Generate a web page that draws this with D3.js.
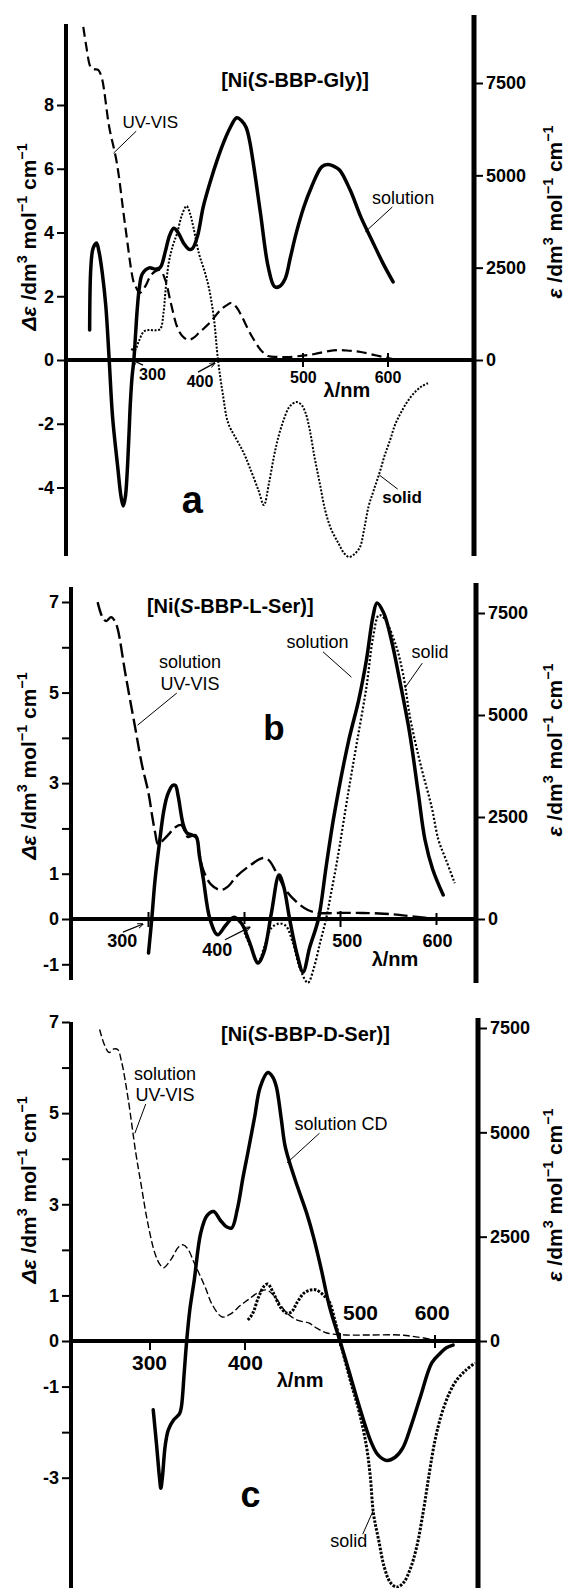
<!DOCTYPE html>
<html>
<head>
<meta charset="utf-8">
<script src="https://cdn.jsdelivr.net/npm/d3@7"></script>
<style>
body { margin: 0; background: #fff; }
svg { font-family: "Liberation Sans", Arial, sans-serif; }
</style>
</head>
<body>
<svg width="567" height="1588"></svg>
<script>
// ---- panel a : [Ni(S-BBP-Gly)]  ([wavelength nm, value])
var aSolution = [[249,0.94],[250.4,2.9],[253,3.5],[257,3.67],[260,3.4],[264,2.7],[268,1.7],[272,0],[276,-1.8],[282,-3.35],[286,-4.3],[288.6,-4.58],[291,-4.3],[293,-3.6],[295,-2.5],[297,-1.3],[299,-0.5],[301,0],[303,0.8],[305,1.6],[307.6,2.3],[311,2.7],[319,2.89],[326,2.85],[332,2.9],[338,3.4],[343,3.9],[348,4.13],[353,4.0],[360,3.65],[366,3.47],[370,3.5],[376,3.9],[382.6,4.8],[391,5.6],[399,6.27],[407,6.85],[414,7.27],[422,7.6],[428,7.5],[433,7.3],[437,6.9],[441,6.27],[450,4.6],[459,2.93],[466.5,2.3],[472,2.3],[479,2.55],[485,3.2],[492,3.98],[501,4.8],[510,5.43],[522,6.06],[529,6.13],[536,6.08],[543,5.96],[555.5,5.33],[568,4.49],[581,3.76],[594,3.04],[606,2.45]];
var aSolid = [[298,0.35],[302,0.3],[307,0.6],[313,0.9],[319,0.94],[326,0.93],[332,0.97],[336,1.5],[338,2.1],[342,3.04],[347,3.6],[352,3.98],[357,4.5],[363,4.83],[367,4.6],[371,4.17],[377.5,3.35],[384,2.8],[389,2.3],[395,1.35],[400,0],[405.5,-1.04],[412,-1.98],[422,-2.5],[430,-2.9],[437,-3.35],[447.5,-4.08],[454,-4.55],[460,-3.86],[466,-3.0],[471,-2.42],[477,-1.9],[484,-1.47],[492,-1.32],[498,-1.4],[503,-1.66],[508,-2.2],[513.5,-3.04],[520,-3.9],[526,-4.71],[533,-5.3],[541.5,-5.74],[548,-6.05],[554,-6.18],[560,-6.1],[567,-5.87],[572,-5.3],[577,-4.61],[583,-4.1],[590,-3.54],[596,-3.0],[602.5,-2.51],[608,-2.05],[615,-1.66],[623,-1.3],[632,-1.0],[640,-0.82],[647,-0.73]];
var aUvVis = [[241.5,9018],[245,8500],[249,7990],[251,7900],[255,7870],[259,7853],[263,7664],[272,6310],[281,5335],[291,3602],[301,2085],[304,1950],[307.6,1814],[314,1977],[320,2250],[325,2383],[331.8,2437],[338,2166],[344.5,1544],[352,894],[358,650],[365,542],[371,600],[377.5,731],[390,1002],[403,1354],[410,1480],[416,1544],[422,1420],[428.4,1164],[435,850],[441,596],[450,280],[459,108],[470,85],[484,81],[500,120],[513.5,162],[530,240],[543,271],[555,250],[568,217],[585,130],[600,54],[611,0]];
var aTicksL = [8, 6, 4, 2, 0, -2, -4];
var aLabelsL = [8, 6, 4, 2, 0, -2, -4];

// ---- panel b : [Ni(S-BBP-L-Ser)]
var bSolution = [[300,-0.75],[303.4,0],[306.8,0.86],[311.4,1.68],[316,2.4],[320,2.75],[325,2.95],[328,2.95],[331,2.7],[336,2.1],[340,1.9],[346,1.85],[350,1.8],[353,1.4],[357,0.9],[364,0],[372,-0.35],[380,-0.15],[389,0.04],[397,-0.1],[405,-0.5],[414,-0.97],[420,-0.75],[428,0.13],[436,0.97],[441,0.7],[447,0.0],[455,-0.8],[461,-1.17],[468,-0.62],[477,0],[485,1.15],[493,2.25],[508,3.89],[519,4.84],[527,5.72],[534,6.7],[538,6.98],[545,6.76],[553,6.16],[561,5.34],[572,4.11],[581,2.78],[588,1.75],[596,1.1],[607,0.53]];
var bSolid = [[400,-0.3],[407,-0.65],[414,-0.95],[421,-0.6],[428,-0.2],[436,-0.1],[443,-0.15],[450,-0.5],[458,-1.1],[466,-1.41],[472,-1.1],[479,-0.5],[485,0],[490,0.55],[496.6,1.3],[508,2.78],[517,3.89],[527,5.12],[534,6.23],[540,6.71],[545.5,6.64],[557,6.09],[565,5.43],[573,4.39],[584,3.36],[595,2.47],[602,1.75],[610,1.3],[619,0.79]];
var bUvVis = [[247,7767],[252,7400],[256,7300],[261,7400],[265,7300],[268,7100],[276,6000],[286,4704],[293,3800],[300,3087],[304,2500],[307,2107],[310,1830],[316,1950],[322,2100],[328,2250],[334,2303],[338,2150],[341,2009],[345,2040],[349,2058],[353,1600],[357,1200],[365,850],[375,710],[383,800],[391,1029],[405,1300],[419,1494],[425,1450],[433,1150],[443,710],[455,400],[466,220],[477,147],[500,150],[523,147],[545,130],[561,100],[580,50],[599,0]];
var bTicksL = [7, 6, 5, 4, 3, 2, 1, 0, -1];
var bLabelsL = [7, 5, 3, 1, 0, -1];

// ---- panel c : [Ni(S-BBP-D-Ser)]
var cSolution = [[303.4,-1.51],[307,-2.3],[310,-3.0],[311.4,-3.23],[313,-3.0],[316,-2.3],[319.3,-1.95],[325,-1.73],[331,-1.6],[333,-1.45],[336,-0.7],[338.6,0],[342,0.7],[346.6,1.34],[353.4,2.37],[360,2.75],[367,2.84],[374,2.65],[381,2.5],[386,2.48],[392,2.9],[398,3.6],[403,4.13],[410,4.9],[416,5.57],[424,5.89],[429,5.8],[433,5.58],[438,4.9],[442,4.3],[447,3.91],[455,3.4],[465,2.8],[472,2.29],[480,1.6],[489,0.75],[500,0],[510,-0.7],[520.5,-1.45],[532,-2.18],[540,-2.5],[549,-2.62],[558,-2.55],[566,-2.35],[575,-1.85],[585,-1.2],[596.6,-0.48],[605,-0.28],[612,-0.15],[619,-0.09]];
var cSolid = [[403,0.46],[408,0.6],[414,0.95],[420,1.2],[424,1.25],[430,1.05],[437,0.75],[444,0.61],[449,0.64],[455,0.85],[462,1.05],[469,1.12],[475,1.12],[483,1.0],[489,0.85],[494,0.5],[500,0],[510,-0.8],[520.5,-1.58],[528,-2.33],[532,-3.0],[535.2,-3.78],[541,-4.4],[546.6,-4.96],[553,-5.3],[560,-5.4],[567,-5.3],[574,-5.0],[580.7,-4.52],[588,-3.7],[594,-2.9],[600,-2.18],[607,-1.6],[615,-1.15],[622.7,-0.86],[632,-0.65],[642,-0.48]];
var cUvVis = [[247,7464],[252,7100],[257,6912],[262,7000],[266,6984],[270,6700],[277,5800],[285,4512],[291,3700],[297,2904],[305,2112],[310,1850],[314,1752],[322,1950],[330,2250],[335,2304],[340,2200],[346,1900],[352,1600],[358,1296],[366,850],[376,576],[385,650],[395,850],[403,984],[413,1150],[422,1224],[430,1100],[444,672],[455,500],[467,432],[476,300],[486,192],[506,144],[530,144],[562,144],[580,100],[600,24]];
var cTicksL = [7, 6, 5, 4, 3, 2, 1, 0, -1, -2, -3];
var cLabelsL = [7, 5, 3, 1, 0, -1, -3];

var xTicks = [300, 400, 500, 600];
var rightTicks = [7500, 5000, 2500, 0];

var svg = d3.select('svg');
svg.append('defs').append('marker')
	.attr('id', 'arr').attr('viewBox', '0 0 10 10').attr('refX', 9).attr('refY', 5)
	.attr('markerWidth', 5).attr('markerHeight', 5).attr('orient', 'auto')
	.append('path').attr('d', 'M0,1 L10,5 L0,9').attr('fill', 'none').attr('stroke', '#000').attr('stroke-width', 1.5);

var panels = [
	{ name: 'a', title: '-BBP-Gly)]', titleAt: [490.7, 8.55],
	  solution: aSolution, solid: aSolid, uv: aUvVis, ticksL: aTicksL, labelsL: aLabelsL,
	  xRange: [133, 388], zeroY: 360, top: [8, 105], rTop: 83,
	  leftX: 66, rightX: 474, leftY: [24, 556], rightY: [15, 556],
	  xLabelAt: [322.9, 378.8, 500.5, 600], xLabelDy: [20, 27, 23, 23], xFont: 16,
	  xMarks: [[500, 7, 7], [600, 7, 7]],
	  arrows: [[311.8, -0.16, 299, 0], [376.5, -0.38, 396.5, -0.09]],
	  lambdaAt: [551.7, -1.16], letterAt: [369.9, -4.8], letterSize: 38,
	  labelY: [237, 212],
	  dash: { solid: 3.5, uv: '10,5', uvW: 2.2, dot: '2,1.6', dotW: 2 },
	  notes: [
		{ t: 'UV-VIS', at: [320.3, 7.28], w: 'normal', s: 17, lead: [303.8, 7.18, 277.1, 6.49] },
		{ t: 'solution', at: [617.8, 4.89], w: 'normal', s: 18, lead: [605.1, 4.8, 573.3, 4.02] },
		{ t: 'solid', at: [616.5, -4.49], w: 'bold', s: 17, lead: [611.4, -4.05, 589.8, -3.61] }
	  ] },
	{ name: 'b', title: '-BBP-L-Ser)]', titleAt: [385.2, 6.75],
	  solution: bSolution, solid: bSolid, uv: bUvVis, ticksL: bTicksL, labelsL: bLabelsL,
	  xRange: [148.5, 436.5], zeroY: 919, top: [7, 602], rTop: 613,
	  leftX: 71, rightX: 476, leftY: [587, 980], rightY: [583, 983],
	  xLabelAt: [272.7, 371.6, 507, 601.1], xLabelDy: [28, 37, 28, 28], xFont: 18,
	  xMarks: [[300, 7, 8], [400, 7, 5], [500, 8, 8], [600, 6, 6]],
	  arrows: [[273.4, -0.29, 294.3, -0.11], [379.7, -0.46, 405.7, -0.18]],
	  lambdaAt: [556.8, -1.04], letterAt: [430.7, 3.95], letterSize: 35,
	  labelY: [766, 750],
	  dash: { solid: 3.5, uv: '14,5', uvW: 2.4, dot: '2,2', dotW: 2.2 },
	  notes: [
		{ t: 'solution', at: [476.1, 5.98], w: 'normal', s: 18, lead: [481.8, 5.9, 511.4, 5.34] },
		{ t: 'solid', at: [593.2, 5.76], w: 'normal', s: 18, lead: [585.2, 5.65, 567, 5.1] },
		{ t: 'solution', at: [343.2, 5.54], w: 'normal', s: 18 },
		{ t: 'UV-VIS', at: [343.2, 5.06], w: 'normal', s: 18, lead: [329.5, 4.99, 288.6, 4.28] }
	  ] },
	{ name: 'c', title: '-BBP-D-Ser)]', titleAt: [463.6, 6.58],
	  solution: cSolution, solid: cSolid, uv: cUvVis, ticksL: cTicksL, labelsL: cLabelsL,
	  xRange: [150, 435], zeroY: 1341, top: [7, 1022], rTop: 1028,
	  leftX: 71, rightX: 478, leftY: [1022, 1588], rightY: [1018, 1588],
	  xLabelAt: [299.5, 400.5, 521.6, 597], xLabelDy: [29, 29, -21, -21], xFont: 21,
	  xMarks: [[300, 0, 9], [400, 0, 9], [500, 8, 5], [600, 6, 7]],
	  arrows: [],
	  lambdaAt: [458, -1.01], letterAt: [405.7, -3.64], letterSize: 36,
	  labelY: [1190, 1195],
	  dash: { solid: 3.5, uv: '7,3', uvW: 1.4, dot: '2.5,1.5', dotW: 3 },
	  notes: [
		{ t: 'solution', at: [315.9, 5.73], w: 'normal', s: 18 },
		{ t: 'UV-VIS', at: [315.9, 5.27], w: 'normal', s: 18, lead: [295.5, 5.2, 284.1, 4.56] },
		{ t: 'solution CD', at: [501.1, 4.63], w: 'normal', s: 18, lead: [478.4, 4.56, 444.3, 3.91] },
		{ t: 'solid', at: [509.1, -4.52], w: 'normal', s: 18, lead: [523.9, -4.24, 535.2, -3.71] }
	  ] }
];

function axisTitle(g, x, y, sym) {
	var size = 21, up = 0;
	var t = g.append('text')
		.attr('transform', 'translate(' + x + ',' + y + ') rotate(-90)')
		.attr('text-anchor', 'middle').attr('font-size', size).attr('font-weight', 'bold');
	var parts = [[sym, 'i'], [' /dm'], ['3', 's'], [' mol'], ['\u22121', 's'], [' cm'], ['\u22121', 's']];
	parts.forEach(function(p) {
		var ts = t.append('tspan').text(p[0]);
		if (p[1] == 'i') ts.attr('font-style', 'italic');
		if (p[1] == 's') {
			ts.attr('font-size', size * 0.68).attr('dy', -size * 0.42);
			up = size * 0.42;
		} else if (up) {
			ts.attr('dy', up);
			up = 0;
		}
	});
}

function drawPanel(p) {
	var x = d3.scaleLinear().domain([300, 600]).range(p.xRange);
	var yL = d3.scaleLinear().domain([0, p.top[0]]).range([p.zeroY, p.top[1]]);
	var yR = d3.scaleLinear().domain([0, 7500]).range([p.zeroY, p.rTop]);
	var g = svg.append('g');

	// axes lines
	g.append('line').attr('x1', p.leftX).attr('x2', p.leftX)
		.attr('y1', p.leftY[0]).attr('y2', p.leftY[1]).attr('stroke', '#000').attr('stroke-width', 4);
	g.append('line').attr('x1', p.rightX).attr('x2', p.rightX)
		.attr('y1', p.rightY[0]).attr('y2', p.rightY[1]).attr('stroke', '#000').attr('stroke-width', 5);
	g.append('line').attr('x1', p.leftX).attr('x2', p.rightX)
		.attr('y1', p.zeroY).attr('y2', p.zeroY).attr('stroke', '#000').attr('stroke-width', 4);

	var axL = d3.axisLeft(yL).tickValues(p.ticksL).tickSize(8).tickPadding(3)
		.tickFormat(function(d) { return p.labelsL.indexOf(d) >= 0 ? String(d) : ''; });
	var gl = g.append('g').attr('transform', 'translate(' + (p.leftX - 1) + ',0)').call(axL);
	var axR = d3.axisRight(yR).tickValues(rightTicks).tickSize(8).tickPadding(3)
		.tickFormat(function(d) { return String(d); });
	var gr = g.append('g').attr('transform', 'translate(' + (p.rightX + 1) + ',0)').call(axR);
	[gl, gr].forEach(function(a) {
		a.select('.domain').remove();
		a.selectAll('line').attr('stroke', '#000').attr('stroke-width', 2);
		a.selectAll('text').attr('font-size', 18).attr('font-weight', 'bold')
			.attr('font-family', '"Liberation Sans", Arial, sans-serif').attr('fill', '#000');
	});

	// x ticks and labels
	p.xMarks.forEach(function(m) {
		g.append('line').attr('x1', x(m[0])).attr('x2', x(m[0]))
			.attr('y1', p.zeroY - m[1]).attr('y2', p.zeroY + m[2])
			.attr('stroke', '#000').attr('stroke-width', 2);
	});
	xTicks.forEach(function(v, i) {
		g.append('text').attr('x', x(p.xLabelAt[i])).attr('y', p.zeroY + p.xLabelDy[i])
			.attr('text-anchor', 'middle').attr('font-size', p.xFont).attr('font-weight', 'bold')
			.text(v);
	});
	p.arrows.forEach(function(a) {
		g.append('line').attr('x1', x(a[0])).attr('y1', yL(a[1]))
			.attr('x2', x(a[2])).attr('y2', yL(a[3]))
			.attr('stroke', '#000').attr('stroke-width', 1.2).attr('marker-end', 'url(#arr)');
	});
	g.append('text').attr('x', x(p.lambdaAt[0])).attr('y', yL(p.lambdaAt[1]))
		.attr('text-anchor', 'middle').attr('font-size', 20).attr('font-weight', 'bold')
		.text('\u03bb/nm');

	// curves
	var lineL = d3.line().curve(d3.curveCatmullRom.alpha(0.5))
		.x(function(d) { return x(d[0]); }).y(function(d) { return yL(d[1]); });
	var lineR = d3.line().curve(d3.curveCatmullRom.alpha(0.5))
		.x(function(d) { return x(d[0]); }).y(function(d) { return yR(d[1]); });
	g.append('path').datum(p.uv).attr('d', lineR).attr('fill', 'none')
		.attr('stroke', '#000').attr('stroke-width', p.dash.uvW).attr('stroke-dasharray', p.dash.uv);
	g.append('path').datum(p.solid).attr('d', lineL).attr('fill', 'none')
		.attr('stroke', '#000').attr('stroke-width', p.dash.dotW).attr('stroke-dasharray', p.dash.dot);
	g.append('path').datum(p.solution).attr('d', lineL).attr('fill', 'none')
		.attr('stroke', '#000').attr('stroke-width', p.dash.solid)
		.attr('stroke-linejoin', 'round').attr('stroke-linecap', 'round');

	// notes
	p.notes.forEach(function(n) {
		g.append('text').attr('x', x(n.at[0])).attr('y', yL(n.at[1]))
			.attr('text-anchor', 'middle').attr('font-size', n.s).attr('font-weight', n.w)
			.text(n.t);
		if (n.lead) {
			g.append('line').attr('x1', x(n.lead[0])).attr('y1', yL(n.lead[1]))
				.attr('x2', x(n.lead[2])).attr('y2', yL(n.lead[3]))
				.attr('stroke', '#000').attr('stroke-width', 1);
		}
	});

	// title, letter
	var t = g.append('text').attr('x', x(p.titleAt[0])).attr('y', yL(p.titleAt[1]))
		.attr('text-anchor', 'middle').attr('font-size', 20).attr('font-weight', 'bold');
	t.append('tspan').text('[Ni(');
	t.append('tspan').attr('font-style', 'italic').text('S');
	t.append('tspan').text(p.title);
	g.append('text').attr('x', x(p.letterAt[0])).attr('y', yL(p.letterAt[1]))
		.attr('text-anchor', 'middle').attr('font-size', p.letterSize).attr('font-weight', 'bold')
		.text(p.name);

	axisTitle(g, 36, p.labelY[0], '\u0394\u03b5');
	axisTitle(g, 562, p.labelY[1], '\u03b5');
}

panels.forEach(drawPanel);
</script>
</body>
</html>
